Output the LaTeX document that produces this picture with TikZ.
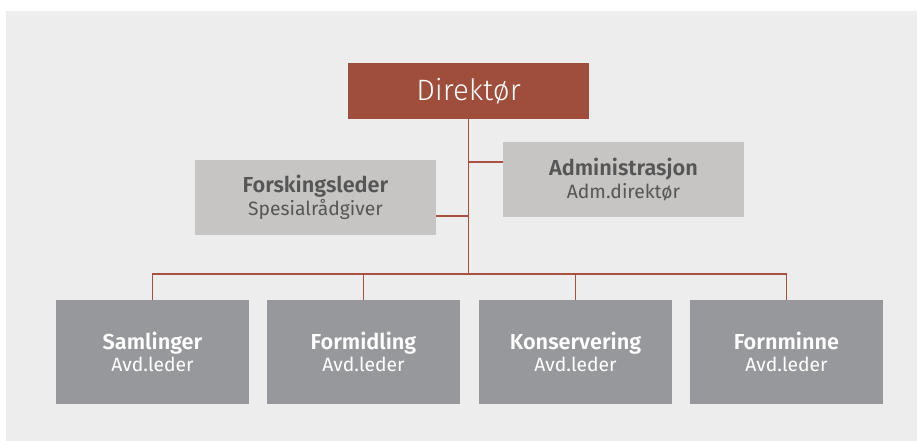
\documentclass[tikz,border=0pt]{standalone}
\usepackage{fontspec}
\setmainfont{Fira Sans}[BoldFont={Fira Sans SemiBold}]
\newfontfamily\lightfont{Fira Sans Light}
\definecolor{bgc}{HTML}{EDEDED}
\definecolor{rust}{HTML}{A04E3C}
\definecolor{linec}{HTML}{A9513E}
\definecolor{lightbox}{HTML}{C6C5C3}
\definecolor{lighttext}{HTML}{565656}
\definecolor{darkbox}{HTML}{97989B}
\tikzset{
  topbox/.style={fill=rust, text=white, minimum width=241pt, minimum height=56pt, inner sep=0pt, font=\lightfont\fontsize{29.5}{32}\selectfont},
  staffbox/.style={fill=lightbox, text=lighttext, minimum width=241pt, minimum height=75pt, inner sep=0pt, align=center, font=\fontsize{21.7}{23}\selectfont},
  deptbox/.style={fill=darkbox, text=white, minimum width=193pt, minimum height=104pt, inner sep=0pt, align=center, font=\fontsize{21.7}{22}\selectfont},
  conn/.style={draw=linec, line width=1.6pt},
}
\newcommand{\subl}[1]{{\fontsize{19.3}{22}\selectfont #1}}
\begin{document}
\begin{tikzpicture}[x=1pt, y=-1pt]
\useasboundingbox (0,0) rectangle (917,441);
\fill[bgc] (6,11) rectangle (917,441);
\node[topbox] (dir) at (468.5,91) {Direktør};
\node[staffbox] (forsk) at (315.5,197.5) {\textbf{Forskingsleder}\\\subl{Spesialrådgiver}};
\node[staffbox] (admin) at (623.5,179.5) {\textbf{Administrasjon}\\\subl{Adm.direktør}};
\node[deptbox] (sam) at (152.5,352) {\textbf{Samlinger}\\\subl{Avd.leder}};
\node[deptbox] (form) at (363.5,352) {\textbf{Formidling}\\\subl{Avd.leder}};
\node[deptbox] (kons) at (575.5,352) {\textbf{Konservering}\\\subl{Avd.leder}};
\node[deptbox] (forn) at (786.5,352) {\textbf{Fornminne}\\\subl{Avd.leder}};
\coordinate (bus) at ([yshift=-155pt]dir.south);
\coordinate (ajoin) at ([yshift=17.5pt]admin.west);
\coordinate (fjoin) at ([yshift=-18.5pt]forsk.east);
\draw[conn] (dir.south) -- (bus);
\draw[conn] (ajoin) -- (ajoin -| dir.south);
\draw[conn] (fjoin) -- (fjoin -| dir.south);
\draw[conn] (sam.north) |- (bus) -| (forn.north);
\draw[conn] (form.north) -- (form.north |- bus);
\draw[conn] (kons.north) -- (kons.north |- bus);
\end{tikzpicture}
\end{document}
